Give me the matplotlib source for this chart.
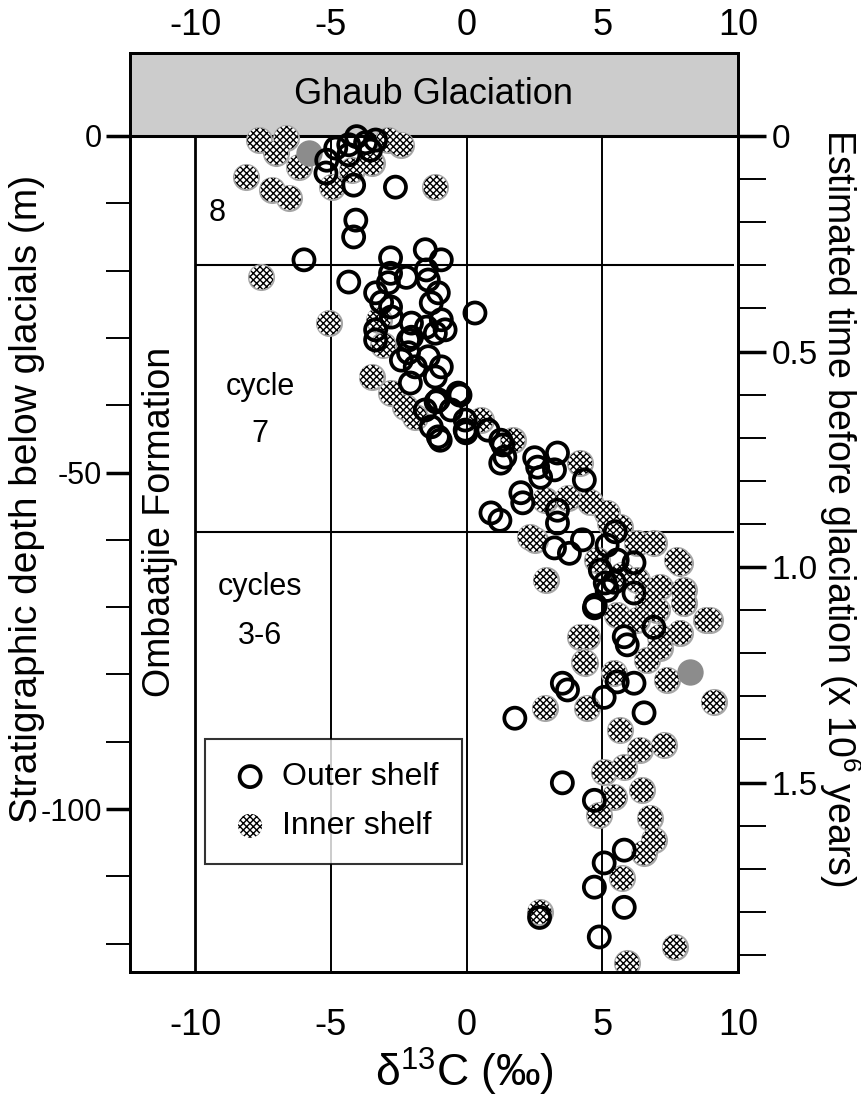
import matplotlib
matplotlib.use("Agg")
import matplotlib.pyplot as plt

plt.rcParams['font.family'] = ['Liberation Sans', 'DejaVu Sans']
plt.rcParams['axes.unicode_minus'] = False
plt.rcParams['hatch.linewidth'] = 1.0
plt.rcParams['hatch.color'] = 'black'

# outer shelf samples: d13C (permil) and depth below glacials (m)
outer_x = [-4.05, -3.72, -4.34, -4.82, -4.34, -5.15, -5.18, -4.16, -2.62, -4.08, -4.16, -5.99, -4.34, -3.35, -3.54,
           -2.80, -1.52, -0.93, -2.80, -2.22, -1.48, -2.88, -3.35, -1.41, -1.04, -3.13, -2.80, -1.30, 0.31, -2.77,
           -0.93, -2.03, -1.48, -3.35, -3.35, -2.03, -1.15, -0.79,
           -2.14, -2.14, -1.41, -0.93, -1.89, -2.07, -1.15, -0.31, -1.04, -1.52, -0.57, -0.05, -1.30, -1.04, -0.05,
           0.79, 1.26, 1.41, -2.40,
           -0.24, -1.12, -0.97, -0.02, 1.34, 1.26, 2.51, 3.35, 3.24, 4.34, 2.00, 2.07, 3.35, 3.35, 0.90, 1.23, 5.48,
           3.24, 3.79, 4.27, 5.18, 4.93, 5.55, 6.17, 5.11, 6.17, 4.71, 6.90, 5.81,
           2.62, 2.73,
           5.18, 5.44, 4.74, 5.92, 3.53, 3.72, 5.55, 6.17, 5.07, 6.54, 1.78, 3.53, 4.71, 5.81, 5.07, 4.71, 5.81,
           2.69, 4.89]
outer_d = [-0.1, -1.0, -1.3, -1.8, -2.8, -3.6, -5.5, -7.3, -7.6, -12.5, -15.0, -18.4, -21.7, -0.6, -2.1,
           -18.1, -16.9, -18.4, -20.4, -21.0, -19.9, -21.8, -23.3, -21.4, -23.3, -24.7, -25.4, -24.8, -26.3, -26.9,
           -27.3, -27.8, -28.4, -28.8, -30.3, -29.9, -29.3, -28.8,
           -30.3, -32.2, -32.8, -34.3, -34.3, -36.7, -35.8, -38.2, -39.2, -40.7, -40.7, -42.2, -43.2, -44.7, -43.7,
           -43.7, -45.2, -47.7, -33.3,
           -38.5, -39.5, -45.2, -44.1, -45.9, -48.6, -47.8, -47.1, -49.6, -51.1, -53.0, -54.5, -55.6, -57.5, -56.0,
           -57.1, -58.8, -61.2, -62.0, -60.0, -60.8, -64.5, -63.0, -63.4, -66.4, -67.9, -70.1, -73.0, -74.4,
           -49.2, -50.7,
           -67.5, -66.3, -69.7, -75.6, -81.3, -82.3, -81.1, -81.3, -83.4, -85.7, -86.5, -96.1, -98.7, -106.1,
           -108.0, -111.6, -114.6, -116.1, -119.0]

# inner shelf samples
inner_x = [-7.64, -6.65, -7.01, -6.17, -8.11, -7.16, -6.54, -4.96, -2.88, -2.40, -3.50, -4.23, -1.15, -7.56, -5.07,
           -3.50, -2.77, -2.25, -1.89, -3.24, -3.06,
           0.53, 1.70, 4.19, 4.56, 3.72, 2.88, 2.33, 5.18, 5.66, 5.29,
           2.91, 4.19, 4.38, 7.38, 9.10, 8.96, 8.00, 7.86, 8.00, 7.12, 6.90, 2.88, 2.51,
           6.28, 7.75, 7.12, 7.01, 8.84, 7.86, 7.12, 4.45, 6.28,
           4.34, 4.45, 5.44, 5.66, 6.39, 7.27, 5.07, 5.81, 6.46, 5.44, 4.89, 6.76, 6.90, 6.54, 5.73, 2.69, 7.67, 5.92,
           4.82, 5.73, 6.65, 5.55, 6.28, 6.65]
inner_d = [-0.6, -0.3, -2.5, -4.6, -6.1, -8.0, -9.2, -7.6, -0.6, -1.3, -4.0, -5.1, -7.6, -21.0, -27.8,
           -35.8, -38.2, -40.3, -41.8, -27.3, -31.1,
           -42.2, -45.2, -48.6, -54.4, -53.8, -54.1, -59.6, -56.0, -58.1, -57.5,
           -66.0, -74.4, -78.3, -80.8, -84.1, -71.9, -67.5, -63.5, -69.4, -76.0, -60.5, -85.0, -60.0,
           -60.5, -63.0, -67.0, -70.4, -71.9, -73.8, -74.4, -74.4, -66.0,
           -78.2, -85.0, -79.8, -88.3, -91.2, -90.5, -94.5, -93.8, -97.2, -98.2, -100.9, -101.3, -104.6, -106.5,
           -110.3, -115.3, -120.5, -122.9,
           -63.0, -65.2, -68.9, -71.2, -71.9, -77.9]
grey_x = [-5.81, 8.22]
grey_d = [-2.5, -79.6]

grid_x = [-10, -5, 0, 5]
cycle_bounds = [-19.2, -58.8]
m_per_myr = 64.04  # depth (m) per 10^6 years

fig = plt.figure(figsize=(8.62, 11.04), dpi=100)
ax = fig.add_axes([0.1508, 0.1196, 0.7053, 0.8324])
xmin, xmax = -12.4, 9.87
dmin, dmax = -124.2, 12.33
ax.set_xlim(xmin, xmax)
ax.set_ylim(dmin, dmax)

ax.axhspan(0, dmax, color='#cccccc', zorder=0)
ax.axhline(0, color='black', lw=2.2, zorder=1)
ax.vlines(grid_x, dmin, 0, color='black', lw=[2.0, 1.4, 1.4, 1.4], zorder=1)
ax.hlines(cycle_bounds, -10, xmax, color='black', lw=1.5, zorder=1)

# inner shelf: grey rim under a black checker fill
ax.scatter(inner_x, inner_d, s=380, color='#a6a6a6', linewidth=0, zorder=2)
inner = ax.scatter(inner_x, inner_d, s=300, facecolor='white', edgecolor='black',
                   linewidth=0, hatch='xxxxx', zorder=2)
ax.scatter(grey_x, grey_d, s=360, color='#8c8c8c', linewidth=0, zorder=2)
outer = ax.scatter(outer_x, outer_d, s=230, facecolor='none', edgecolor='black',
                   linewidth=2.7, zorder=3)

ax.text(-1.2, 6.2, 'Ghaub Glaciation', fontsize=26, ha='center', va='center')
ax.text(-11.3, -57.4, 'Ombaatjie Formation', fontsize=27, rotation=90, ha='center', va='center')
ax.text(-9.2, -11.5, '8', fontsize=22, ha='center', va='center')
ax.text(-7.6, -37.3, 'cycle', fontsize=22, ha='center', va='center')
ax.text(-7.6, -44.3, '7', fontsize=22, ha='center', va='center')
ax.text(-7.6, -67.0, 'cycles', fontsize=22, ha='center', va='center')
ax.text(-7.6, -74.3, '3-6', fontsize=22, ha='center', va='center')

leg = ax.legend([outer, inner], ['Outer shelf', 'Inner shelf'], loc='upper left',
                bbox_to_anchor=(0.123, 0.2535), fontsize=23, frameon=True, fancybox=False,
                scatterpoints=1, handletextpad=0.3, borderpad=0.72, labelspacing=0.6,
                handlelength=1.4, borderaxespad=0)
leg.get_frame().set_edgecolor('black')
leg.get_frame().set_linewidth(1.5)

for s in ax.spines.values():
    s.set_linewidth(2.0)

ax.set_xticks([-10, -5, 0, 5, 10])
ax.tick_params(axis='x', length=0, labelsize=26, pad=26)
top = ax.secondary_xaxis('top')
top.set_xticks([-10, -5, 0, 5, 10])
top.tick_params(length=0, labelsize=26, pad=7)
top.spines['top'].set_linewidth(2.0)

ax.set_yticks([0, -50, -100])
ax.set_yticks(range(0, -121, -10), minor=True)
ax.tick_params(axis='y', which='major', length=17, width=2.5, labelsize=22, pad=3)
ax.tick_params(axis='y', which='minor', length=17, width=1.4)

ax2 = ax.twinx()
ax2.set_ylim(-dmin / m_per_myr, -dmax / m_per_myr)
ax2.set_yticks([0, 0.5, 1.0, 1.5])
ax2.set_yticklabels(['0', '0.5', '1.0', '1.5'])
ax2.set_yticks([i / 10 for i in range(0, 20)], minor=True)
ax2.tick_params(axis='y', which='major', length=20, width=2.5, labelsize=24, pad=4)
ax2.tick_params(axis='y', which='minor', length=20, width=1.4)
for s in ax2.spines.values():
    s.set_linewidth(2.0)

ax.set_xlabel('δ$^{\\mathregular{13}}$C (‰)', fontsize=32)
ax.xaxis.set_label_coords(0.55, -0.08)
ax.set_ylabel('Stratigraphic depth below glacials (m)', fontsize=28)
ax.yaxis.set_label_coords(-0.14, 0.515)
ax2.set_ylabel('Estimated time before glaciation (x 10$^{\\mathregular{6}}$ years)', fontsize=27,
               rotation=270, va='bottom')
ax2.yaxis.set_label_coords(1.13, 0.505)

fig.savefig('out.png', dpi=100)
